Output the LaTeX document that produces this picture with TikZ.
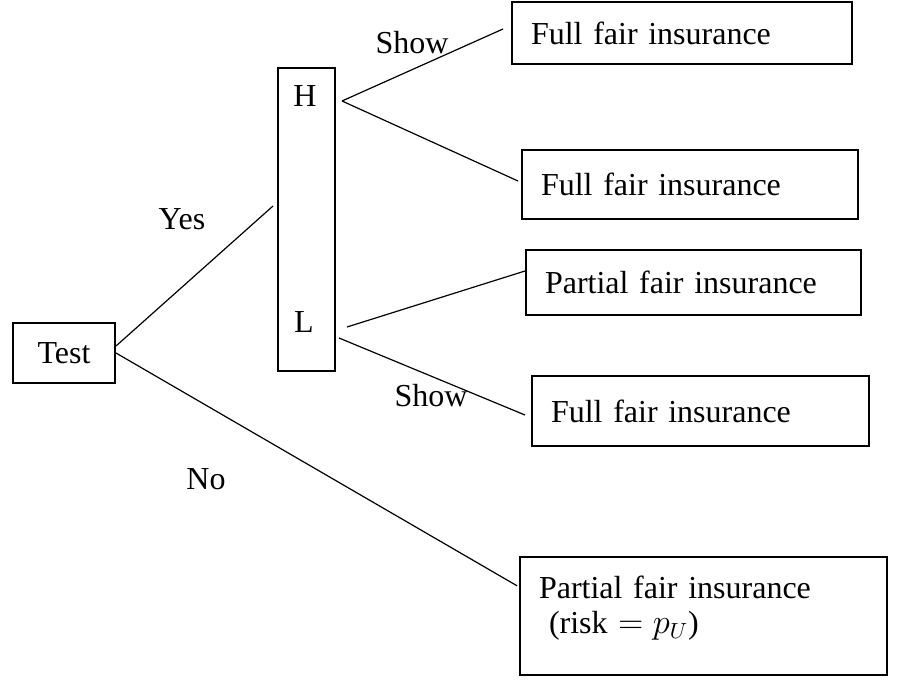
\documentclass[tikz,border=0pt]{standalone}
\usepackage{amsmath}
\usepackage{fontspec}
\setmainfont{Liberation Serif}
\usetikzlibrary{positioning}

\begin{document}
\begin{tikzpicture}[
    x=0.5pt, y=-0.5pt,
    every node/.style={font=\fontsize{16}{17.5}\selectfont},
    frame/.style={rectangle, draw, line width=1pt, anchor=north west, inner sep=0pt},
    outcome/.style={rectangle, draw, line width=1pt, anchor=north west, align=left, inner xsep=9.5pt, inner ysep=0pt},
    tag/.style={inner sep=0pt},
    branch/.style={line width=0.6pt}
]
    \useasboundingbox (0,0) rectangle (908,679);

    % Root and risk types
    \node[frame, minimum width=51pt, minimum height=30pt] (test) at (12,322) {Test};
    \node[frame, minimum width=28.5pt, minimum height=151.5pt] (risk) at (277,67) {};
    \node[tag] (hlab) at (305,96) {H};
    \node[tag] (llab) at (304,322) {L};

    % Outcomes
    \node[outcome, text width=151pt, minimum height=31pt] (full1) at (511,1) {Full fair insurance};
    \node[outcome, text width=149pt, minimum height=34.5pt] (full2) at (521,149) {Full fair insurance};
    \node[outcome, text width=148.5pt, minimum height=32.5pt] (part1) at (525,249) {Partial fair insurance};
    \node[outcome, text width=149.5pt, minimum height=35pt] (full3) at (531,375) {Full fair insurance};
    \node[outcome, text width=164.5pt, inner ysep=9.5pt] (part2) at (519,556)
        {Partial fair insurance\\ \hspace{5pt}(risk $= p_U$)\rule[-11pt]{0pt}{11pt}};

    % Branches
    \draw[branch] ([yshift=3.5pt]test.east) -- ([xshift=-2pt,yshift=6.75pt]risk.west);
    \draw[branch] (test.east) -- ([xshift=-1pt,yshift=15pt]part2.west);
    \draw[branch] ([xshift=3pt,yshift=59.25pt]risk.east) -- ([xshift=-4pt,yshift=2pt]full1.west);
    \draw[branch] ([xshift=3pt,yshift=59.25pt]risk.east) -- ([xshift=-1.5pt,yshift=1.75pt]full2.west);
    \draw[branch] ([xshift=5.5pt,yshift=-53.75pt]risk.east) -- ([yshift=5.75pt]part1.west);
    \draw[branch] ([xshift=1.5pt,yshift=-59.25pt]risk.east) -- ([xshift=-3pt,yshift=-2pt]full3.west);

    % Labels
    \node[tag] (yes) at (182,219) {Yes};
    \node[tag] (no) at (206,479) {No};
    \node[tag] (showh) at (412,43) {Show};
    \node[tag] (showl) at (431,396) {Show};
\end{tikzpicture}
\end{document}
